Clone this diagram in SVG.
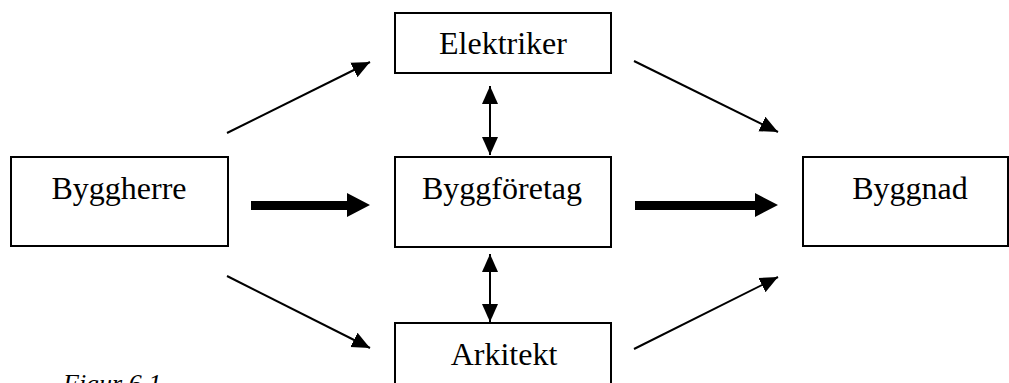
<svg xmlns="http://www.w3.org/2000/svg" width="1009" height="383" viewBox="0 0 1009 383">
  <style>
    .box { fill: #ffffff; stroke: #000000; stroke-width: 2; }
    .label { font-family: "Liberation Serif", "Times New Roman", serif; font-size: 32px; fill: #000000; text-anchor: middle; }
    .caption { font-family: "Liberation Serif", "Times New Roman", serif; font-size: 26px; font-style: italic; fill: #000000; }
    .thin { stroke: #000000; stroke-width: 2; fill: none; }
    .fat { fill: #000000; stroke: none; }
  </style>
  <defs>
    <marker id="head" markerUnits="userSpaceOnUse" markerWidth="20" markerHeight="18" refX="18" refY="8" orient="auto-start-reverse" viewBox="0 0 20 16">
      <path d="M0,0 L18,8 L0,16 Z" fill="#000000"/>
    </marker>
  </defs>

  <rect width="1009" height="383" fill="#ffffff"/>

  <g id="connectors">
    <!-- Byggherre to Elektriker / Arkitekt -->
    <line class="thin" x1="227" y1="133" x2="370" y2="62" marker-end="url(#head)"/>
    <line class="thin" x1="227" y1="276" x2="370" y2="348" marker-end="url(#head)"/>
    <!-- Elektriker / Arkitekt to Byggnad -->
    <line class="thin" x1="634" y1="61" x2="778" y2="132" marker-end="url(#head)"/>
    <line class="thin" x1="634" y1="349" x2="778" y2="277" marker-end="url(#head)"/>
    <!-- two-way links to Byggföretag -->
    <line class="thin" x1="490" y1="86" x2="490" y2="155" marker-start="url(#head)" marker-end="url(#head)"/>
    <line class="thin" x1="490" y1="254" x2="490" y2="322" marker-start="url(#head)" marker-end="url(#head)"/>
    <!-- main flow: block arrows -->
    <path class="fat" d="M251,201 L347,201 L347,193 L370,205 L347,217 L347,210 L251,210 Z"/>
    <path class="fat" d="M635,201 L755,201 L755,193 L778,205 L755,217 L755,210 L635,210 Z"/>
  </g>

  <g id="byggherre">
    <rect class="box" x="11" y="157" width="217" height="89"/>
    <text class="label" x="119" y="199">Byggherre</text>
  </g>

  <g id="elektriker">
    <rect class="box" x="395" y="13" width="216" height="60"/>
    <text class="label" x="503" y="54">Elektriker</text>
  </g>

  <g id="byggforetag">
    <rect class="box" x="395" y="157" width="216" height="90"/>
    <text class="label" x="502" y="199">Byggföretag</text>
  </g>

  <g id="arkitekt">
    <rect class="box" x="395" y="323" width="216" height="80"/>
    <text class="label" x="504" y="365">Arkitekt</text>
  </g>

  <g id="byggnad">
    <rect class="box" x="803" y="157" width="205" height="89"/>
    <text class="label" x="910" y="199">Byggnad</text>
  </g>

  <text class="caption" x="63" y="392">Figur 6.1</text>
</svg>
